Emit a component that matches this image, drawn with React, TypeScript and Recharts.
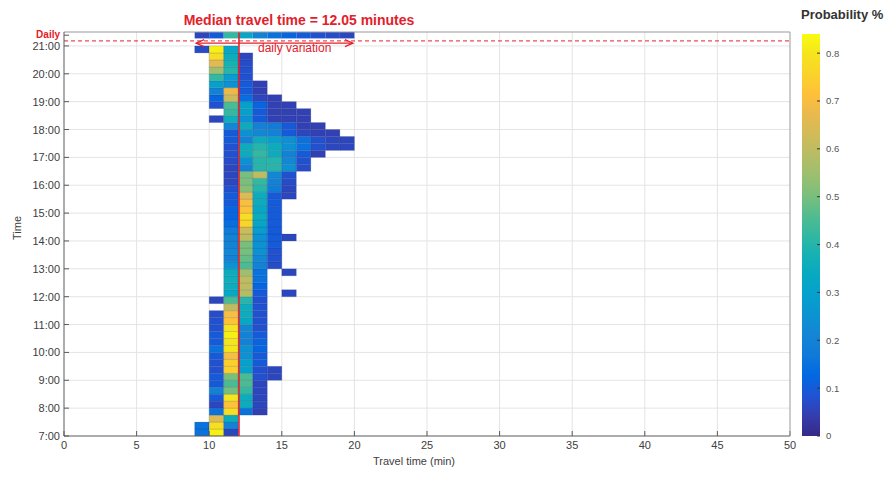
import React from 'react';
import { ComposedChart, XAxis, YAxis, CartesianGrid, ReferenceArea, ReferenceLine } from 'recharts';

// ---------------- data ----------------
const _ = null;
// travel-time bins (minutes), 1-minute wide, starting at:
const binStarts = [9, 10, 11, 12, 13, 14, 15, 16, 17, 18, 19];
const BIN_W = 1;
// time slots: 15-minute rows, starting 7:00
const DAY_START = 7;
const SLOT = 0.25;
// probability per (slot, bin); row 0 = 7:00-7:15 ... row 55 = 20:45-21:00
const heatRows: (number | null)[][] = [
  [0.15, 0.82, 0.06],
  [0.15, 0.78, 0.2],
  [_, 0.65, 0.35],
  [_, 0.15, 0.78, 0.15, 0.05],
  [_, 0.06, 0.72, 0.35, 0.06],
  [_, 0.1, 0.8, 0.35, 0.06],
  [_, 0.2, 0.5, 0.42, 0.06],
  [_, 0.1, 0.45, 0.45, 0.06],
  [_, 0.1, 0.5, 0.45, 0.08, 0.06],
  [_, 0.08, 0.75, 0.3, 0.08, 0.06],
  [_, 0.08, 0.75, 0.3, 0.1],
  [_, 0.1, 0.7, 0.25, 0.1],
  [_, 0.15, 0.8, 0.25, 0.12],
  [_, 0.1, 0.8, 0.2, 0.12],
  [_, 0.1, 0.82, 0.2, 0.1],
  [_, 0.08, 0.8, 0.22, 0.08],
  [_, 0.08, 0.72, 0.33, 0.08],
  [_, 0.07, 0.7, 0.35, 0.08],
  [_, _, 0.6, 0.35, 0.08],
  [_, 0.06, 0.45, 0.4, 0.08],
  [_, _, 0.33, 0.58, 0.1, _, 0.06],
  [_, _, 0.35, 0.6, 0.12],
  [_, _, 0.36, 0.6, 0.15],
  [_, _, 0.35, 0.55, 0.15, _, 0.06],
  [_, _, 0.25, 0.45, 0.2, 0.07],
  [_, _, 0.2, 0.48, 0.22, 0.08],
  [_, _, 0.22, 0.5, 0.25, 0.08],
  [_, _, 0.2, 0.5, 0.25, 0.1],
  [_, _, 0.2, 0.6, 0.25, 0.1, 0.06],
  [_, _, 0.18, 0.62, 0.28, 0.1],
  [_, _, 0.14, 0.76, 0.32, 0.1],
  [_, _, 0.12, 0.78, 0.35, 0.1],
  [_, _, 0.12, 0.72, 0.33, 0.1],
  [_, _, 0.1, 0.7, 0.35, 0.1],
  [_, _, 0.1, 0.65, 0.35, 0.1, 0.06],
  [_, _, 0.08, 0.52, 0.4, 0.18, 0.06],
  [_, _, 0.06, 0.5, 0.42, 0.2, 0.07],
  [_, _, 0.06, 0.5, 0.6, 0.22, 0.08],
  [_, _, 0.06, 0.2, 0.4, 0.4, 0.25, 0.07],
  [_, _, 0.07, 0.25, 0.4, 0.4, 0.22, 0.08],
  [_, _, 0.08, 0.35, 0.42, 0.35, 0.2, 0.1, 0.05],
  [_, _, 0.08, 0.35, 0.4, 0.35, 0.25, 0.15, 0.08, 0.06, 0.06],
  [_, _, 0.1, 0.2, 0.35, 0.3, 0.25, 0.15, 0.08, 0.06, 0.06],
  [_, _, 0.1, 0.25, 0.22, 0.2, 0.1, 0.06, 0.05, 0.05],
  [_, _, 0.22, 0.35, 0.2, 0.18, 0.1, 0.05, 0.05],
  [_, 0.06, 0.36, 0.25, 0.1, 0.05, 0.05, 0.05],
  [_, _, 0.42, 0.3, 0.1, 0.05, 0.05, 0.05],
  [_, 0.08, 0.45, 0.3, 0.12, 0.05, 0.05],
  [_, 0.12, 0.62, 0.14, 0.06, 0.05],
  [_, 0.2, 0.68, 0.1, 0.05],
  [_, 0.3, 0.25, 0.1, 0.05],
  [_, 0.42, 0.28, 0.08],
  [_, 0.55, 0.4, 0.08],
  [_, 0.66, 0.38, 0.07],
  [_, 0.78, 0.35, 0.06],
  [0.07, 0.82, 0.32],
];
// the "Daily" summary row
const dailyValues = [0.06, 0.1, 0.42, 0.32, 0.2, 0.15, 0.12, 0.1, 0.08, 0.07, 0.06];
const DAILY_Y = [21.27, 21.5];
const MEDIAN = 12.05;
const DAILY_LINE = 21.18;
const ARROW_Y = 21.1;
const ARROW_X = [9.1, 19.9];

const X_DOMAIN = [0, 50];
const Y_DOMAIN = [7, 21.5];
const xTicks = [0, 5, 10, 15, 20, 25, 30, 35, 40, 45, 50];
const hourTicks = [7, 8, 9, 10, 11, 12, 13, 14, 15, 16, 17, 18, 19, 20, 21];
const DAILY_TICK = 21.385;
const gridHours = [8, 9, 10, 11, 12, 13, 14, 15, 16, 17, 18, 19, 20, 21];
const gridX = [5, 10, 15, 20, 25, 30, 35, 40, 45];
const colorTicks = [0, 0.1, 0.2, 0.3, 0.4, 0.5, 0.6, 0.7, 0.8];
const CMAX = 0.84;

// ---------------- styling ----------------
const RED = '#e3202a';
const TXT = '#404040';
const FONT = '"Liberation Sans", Arial, Helvetica, sans-serif';

const PARULA: [number, number[]][] = [
  [0, [53, 42, 135]],
  [0.05, [53, 61, 173]],
  [0.1, [32, 83, 212]],
  [0.15, [2, 104, 225]],
  [0.2, [16, 121, 218]],
  [0.25, [20, 133, 212]],
  [0.3, [12, 147, 210]],
  [0.35, [6, 160, 205]],
  [0.4, [7, 169, 194]],
  [0.45, [21, 177, 180]],
  [0.5, [51, 184, 161]],
  [0.55, [83, 188, 142]],
  [0.6, [124, 191, 123]],
  [0.65, [156, 191, 111]],
  [0.7, [183, 189, 100]],
  [0.75, [209, 187, 89]],
  [0.8, [233, 185, 78]],
  [0.85, [254, 192, 58]],
  [0.9, [250, 211, 42]],
  [0.95, [245, 228, 29]],
  [1, [249, 251, 14]],
];

function parula(v: number): string {
  const t = Math.max(0, Math.min(1, v / CMAX));
  for (let i = 1; i < PARULA.length; i++) {
    const [t1, c1] = PARULA[i];
    const [t0, c0] = PARULA[i - 1];
    if (t <= t1) {
      const f = (t - t0) / (t1 - t0);
      const c = c0.map((a, k) => Math.round(a + (c1[k] - a) * f));
      return `rgb(${c[0]},${c[1]},${c[2]})`;
    }
  }
  const c = PARULA[PARULA.length - 1][1];
  return `rgb(${c[0]},${c[1]},${c[2]})`;
}

// flat table for the chart (cell centres), built from the arrays above
const cellTable = heatRows.flatMap((row, r) =>
  row
    .map((v, c) => ({ x: binStarts[c] + BIN_W / 2, y: DAY_START + (r + 0.5) * SLOT, v, r, c }))
    .filter((d) => d.v != null)
);
const chartData = [{ x: X_DOMAIN[0], y: Y_DOMAIN[0] }, ...cellTable, { x: X_DOMAIN[1], y: Y_DOMAIN[1] }];
const barData = [
  { x: 0, y: 0 },
  { x: 1, y: CMAX },
];

const fmtHour = (h: number) => `${h}:00`;

const YTick = (props: any) => {
  const { x, y, payload } = props;
  if (payload.value > 21.1) {
    return (
      <text x={x} y={y} dy={3} textAnchor="end" fill={RED} fontSize={10} fontWeight="bold">
        Daily
      </text>
    );
  }
  return (
    <text x={x} y={y} dy={4} textAnchor="end" fill={TXT} fontSize={11}>
      {fmtHour(payload.value)}
    </text>
  );
};

const ArrowShape = (props: any) => {
  const { x1, y1, x2, y2 } = props;
  const a = 8;
  const b = 3.5;
  return (
    <g>
      <line x1={x1} y1={y1} x2={x2} y2={y2} stroke={RED} strokeWidth={1.2} />
      <polyline points={`${x1 + a},${y1 - b} ${x1},${y1} ${x1 + a},${y1 + b}`} fill="none" stroke={RED} strokeWidth={1.2} />
      <polyline points={`${x2 - a},${y2 - b} ${x2},${y2} ${x2 - a},${y2 + b}`} fill="none" stroke={RED} strokeWidth={1.2} />
    </g>
  );
};

export default function App() {
  const cells = cellTable.map((d) => (
    <ReferenceArea
      key={`c${d.r}-${d.c}`}
      x1={binStarts[d.c]}
      x2={binStarts[d.c] + BIN_W}
      y1={DAY_START + d.r * SLOT}
      y2={DAY_START + (d.r + 1) * SLOT}
      fill={parula(d.v as number)}
      fillOpacity={1}
      stroke="rgba(20,20,70,0.22)"
      strokeWidth={0.6}
      ifOverflow="visible"
    />
  ));
  const daily = dailyValues.map((v, c) => (
    <ReferenceArea
      key={`d${c}`}
      x1={binStarts[c]}
      x2={binStarts[c] + BIN_W}
      y1={DAILY_Y[0]}
      y2={DAILY_Y[1]}
      fill={parula(v)}
      fillOpacity={1}
      stroke="none"
      ifOverflow="visible"
    />
  ));

  return (
    <div style={{ position: 'absolute', left: 0, top: 0, width: 887, height: 477, background: '#fff', fontFamily: FONT }}>
      <ComposedChart width={887} height={477} margin={{ top: 31, right: 96, bottom: 0, left: 0 }} data={chartData}>
        <CartesianGrid stroke="#e4e4e4" horizontalValues={gridHours} verticalValues={gridX} />
        <XAxis
          dataKey="x"
          type="number"
          domain={X_DOMAIN}
          ticks={xTicks}
          height={41}
          tickSize={-5}
          tickMargin={10}
          axisLine={{ stroke: '#5a5a5a' }}
          tickLine={{ stroke: '#5a5a5a' }}
          tick={{ fontSize: 11, fill: TXT }}
          interval={0}
          allowDataOverflow
        />
        <XAxis
          xAxisId="top"
          dataKey="x"
          orientation="top"
          type="number"
          domain={X_DOMAIN}
          ticks={xTicks}
          height={1}
          tick={false}
          tickSize={-5}
          axisLine={{ stroke: '#999' }}
          tickLine={{ stroke: '#999' }}
          interval={0}
          allowDataOverflow
        />
        <YAxis
          dataKey="y"
          type="number"
          domain={Y_DOMAIN}
          ticks={[...hourTicks, DAILY_TICK]}
          width={64}
          tickSize={-5}
          tickMargin={9}
          axisLine={{ stroke: '#5a5a5a' }}
          tickLine={{ stroke: '#5a5a5a' }}
          tick={<YTick />}
          interval={0}
          allowDataOverflow
        />
        <YAxis
          yAxisId="right"
          dataKey="y"
          orientation="right"
          type="number"
          domain={Y_DOMAIN}
          ticks={hourTicks}
          width={1}
          tick={false}
          tickSize={-5}
          axisLine={{ stroke: '#999' }}
          tickLine={{ stroke: '#999' }}
          interval={0}
          allowDataOverflow
        />
        {cells}
        {daily}
        <ReferenceLine y={DAILY_LINE} stroke={RED} strokeDasharray="4 3" strokeWidth={1} />
        <ReferenceLine
          segment={[
            { x: ARROW_X[0], y: ARROW_Y },
            { x: ARROW_X[1], y: ARROW_Y },
          ]}
          shape={ArrowShape}
        />
        <ReferenceLine x={MEDIAN} stroke={RED} strokeWidth={1.6} />
      </ComposedChart>

      <div style={{ position: 'absolute', left: 790, top: 0 }}>
        <ComposedChart width={97} height={477} margin={{ top: 34, right: 0, bottom: 41, left: 12 }} data={barData}>
          <defs>
            <linearGradient id="parulaGrad" x1="0" y1="1" x2="0" y2="0">
              {PARULA.map(([t, c]) => (
                <stop key={t} offset={`${t * 100}%`} stopColor={`rgb(${c[0]},${c[1]},${c[2]})`} />
              ))}
            </linearGradient>
          </defs>
          <XAxis hide dataKey="x" type="number" domain={[0, 1]} />
          <YAxis
            dataKey="y"
            orientation="right"
            type="number"
            domain={[0, CMAX]}
            ticks={colorTicks}
            width={67}
            axisLine={false}
            tickSize={-3}
            tickMargin={9}
            tickLine={{ stroke: '#333' }}
            tick={{ fontSize: 9.5, fill: '#555' }}
            tickFormatter={(v: number) => (v === 0 ? '0' : v.toFixed(1))}
            interval={0}
            allowDataOverflow
          />
          <ReferenceArea x1={0} x2={1} y1={0} y2={CMAX} fill="url(#parulaGrad)" fillOpacity={1} stroke="none" ifOverflow="visible" />
        </ComposedChart>
      </div>

      <svg width={887} height={477} style={{ position: 'absolute', left: 0, top: 0, pointerEvents: 'none' }}>
        <text x={299} y={25} textAnchor="middle" fill={RED} fontSize={14} fontWeight="bold">
          Median travel time = 12.05 minutes
        </text>
        <text x={258} y={52} fill={RED} fontSize={12}>
          daily variation
        </text>
        <text x={414} y={465} textAnchor="middle" fill={TXT} fontSize={11}>
          Travel time (min)
        </text>
        <text x={21} y={228} textAnchor="middle" fill={TXT} fontSize={11} transform="rotate(-90 21 228)">
          Time
        </text>
        <text x={801} y={18.5} fill="#333" fontSize={13} fontWeight="bold">
          Probability %
        </text>
      </svg>
    </div>
  );
}
